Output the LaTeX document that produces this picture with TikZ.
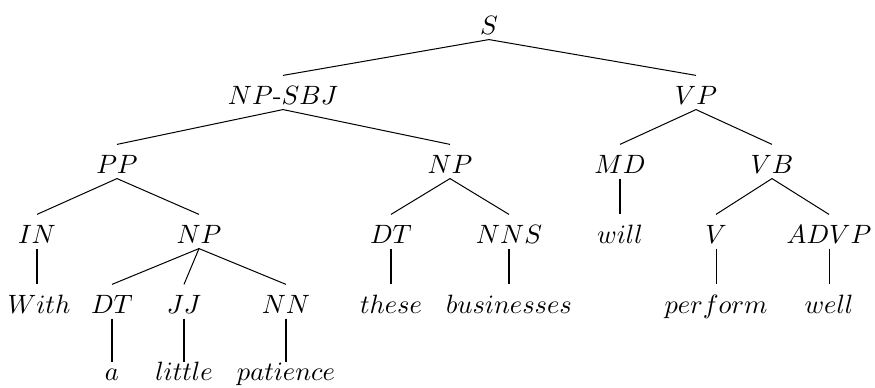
\documentclass[tikz,border=0pt]{standalone}
\begin{document}
\begin{tikzpicture}[
  x=0.3774pt, y=-0.3774pt,
  tn/.style={inner sep=0pt, anchor=base, text height=10.6pt, text depth=1.9pt},
  leaf/.style={inner sep=0pt, anchor=base, text height=6.6pt, text depth=1.9pt},
  branch/.style={line width=0.38pt}
]
\useasboundingbox (0,0) rectangle (875,387);

% row 1
\node[tn] (S)     at (489,34)  {$S$};
% row 2
\node[tn] (NPSBJ) at (283,104) {$NP$-$SBJ$};
\node[tn] (VP)    at (696,104) {$VP$};
% row 3
\node[tn] (PP)    at (117,173) {$PP$};
\node[tn] (NPa)   at (450,173) {$NP$};
\node[tn] (MD)    at (620,173) {$MD$};
\node[tn] (VB)    at (772,173) {$VB$};
% row 4
\node[tn] (IN)    at (37,243)  {$IN$};
\node[tn] (NPb)   at (199,243) {$NP$};
\node[tn] (DTa)   at (391,243) {$DT$};
\node[tn] (NNS)   at (509,243) {$NNS$};
\node[tn] (will)  at (620,243) {$will$};
\node[tn] (V)     at (716,243) {$V$};
\node[tn] (ADVP)  at (829,243) {$ADVP$};
% row 5
\node[tn] (With)  at (39,313)  {$With$};
\node[tn] (DTb)   at (112,313) {$DT$};
\node[tn] (JJ)    at (184,313) {$JJ$};
\node[tn] (NN)    at (286,313) {$NN$};
\node[tn] (these) at (391,313) {$these$};
\node[tn] (bus)   at (509,313) {$businesses$};
\node[tn] (perf)  at (716,313) {$perform$};
\node[tn] (well)  at (829,313) {$well$};
% row 6
\node[leaf] (a)   at (112,380) {$a$};
\node[leaf] (lit) at (184,380) {$little$};
\node[leaf] (pat) at (286,380) {$patience$};

% branches
\draw[branch] (S.south) -- (NPSBJ.north);
\draw[branch] (S.south) -- (VP.north);
\draw[branch] (NPSBJ.south) -- (PP.north);
\draw[branch] (NPSBJ.south) -- (NPa.north);
\draw[branch] (VP.south) -- (MD.north);
\draw[branch] (VP.south) -- (VB.north);
\draw[branch] (PP.south) -- (IN.north);
\draw[branch] (PP.south) -- (NPb.north);
\draw[branch] (NPa.south) -- (DTa.north);
\draw[branch] (NPa.south) -- (NNS.north);
\draw[branch] (MD.south) -- (will.north);
\draw[branch] (VB.south) -- (V.north);
\draw[branch] (VB.south) -- (ADVP.north);
\draw[branch] (IN.south) -- (IN.south |- With.north);
\draw[branch] (NPb.south) -- (DTb.north);
\draw[branch] (NPb.south) -- (JJ.north);
\draw[branch] (NPb.south) -- (NN.north);
\draw[branch] (DTa.south) -- (these.north);
\draw[branch] (NNS.south) -- (bus.north);
\draw[branch] (V.south) -- (perf.north);
\draw[branch] (ADVP.south) -- (well.north);
\draw[branch] (DTb.south) -- (a.north);
\draw[branch] (JJ.south) -- (lit.north);
\draw[branch] (NN.south) -- (pat.north);
\end{tikzpicture}
\end{document}
